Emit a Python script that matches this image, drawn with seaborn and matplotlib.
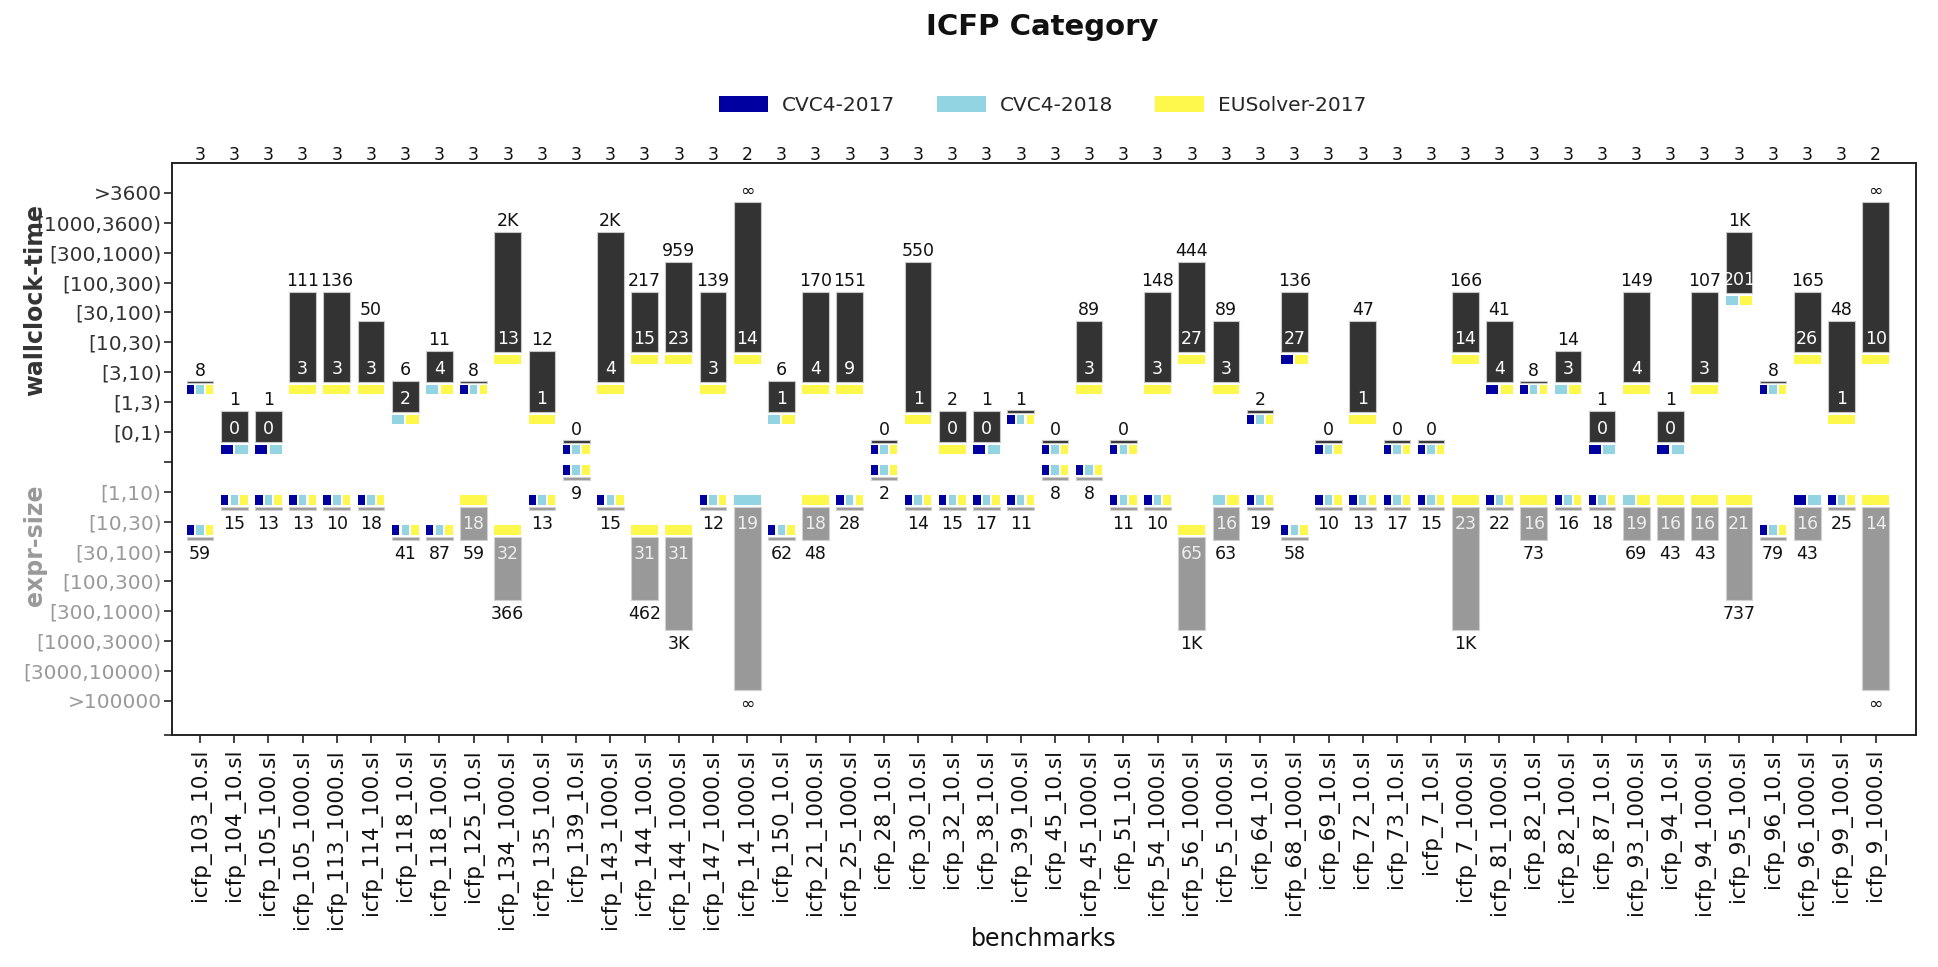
import numpy as np
import pandas as pd
import matplotlib
matplotlib.use("Agg")
import matplotlib.pyplot as plt
import matplotlib.transforms as mtransforms
from matplotlib.patches import Patch
import seaborn as sns

INF = np.inf

benchmarks = [
    "icfp_103_10.sl", "icfp_104_10.sl", "icfp_105_100.sl", "icfp_105_1000.sl", "icfp_113_1000.sl",
    "icfp_114_100.sl", "icfp_118_10.sl", "icfp_118_100.sl", "icfp_125_10.sl", "icfp_134_1000.sl",
    "icfp_135_100.sl", "icfp_139_10.sl", "icfp_143_1000.sl", "icfp_144_100.sl", "icfp_144_1000.sl",
    "icfp_147_1000.sl", "icfp_14_1000.sl", "icfp_150_10.sl", "icfp_21_1000.sl", "icfp_25_1000.sl",
    "icfp_28_10.sl", "icfp_30_10.sl", "icfp_32_10.sl", "icfp_38_10.sl", "icfp_39_100.sl",
    "icfp_45_10.sl", "icfp_45_1000.sl", "icfp_51_10.sl", "icfp_54_1000.sl", "icfp_56_1000.sl",
    "icfp_5_1000.sl", "icfp_64_10.sl", "icfp_68_1000.sl", "icfp_69_10.sl", "icfp_72_10.sl",
    "icfp_73_10.sl", "icfp_7_10.sl", "icfp_7_1000.sl", "icfp_81_1000.sl", "icfp_82_10.sl",
    "icfp_82_100.sl", "icfp_87_10.sl", "icfp_93_1000.sl", "icfp_94_10.sl", "icfp_94_1000.sl",
    "icfp_95_100.sl", "icfp_96_10.sl", "icfp_96_1000.sl", "icfp_99_100.sl", "icfp_9_1000.sl",
]
solved = [3] * 16 + [2] + [3] * 32 + [2]

time_min = [8, 0, 0, 3, 3, 3, 2, 4, 8, 13, 1, 0, 4, 15, 23, 3, 14, 1, 4, 9,
            0, 1, 0, 0, 1, 0, 3, 0, 3, 27, 3, 2, 27, 0, 1, 0, 0, 14, 4, 8,
            3, 0, 4, 0, 3, 201, 8, 26, 1, 10]
time_max = [8, 1, 1, 111, 136, 50, 6, 11, 8, 2000, 12, 0, 2000, 217, 959, 139, INF, 6, 170, 151,
            0, 550, 2, 1, 1, 0, 89, 0, 148, 444, 89, 2, 136, 0, 47, 0, 0, 166, 41, 8,
            14, 1, 149, 1, 107, 1000, 8, 165, 48, INF]
time_win = ["abc", "ab", "ab", "c", "c", "c", "bc", "bc", "abc", "c",
            "c", "abc", "c", "c", "c", "c", "c", "bc", "c", "c",
            "abc", "c", "c", "ab", "abc", "abc", "c", "abc", "c", "c",
            "c", "abc", "ac", "abc", "c", "abc", "abc", "c", "ac", "abc",
            "bc", "ab", "c", "ab", "c", "bc", "abc", "c", "c", "c"]

size_min = [59, 15, 13, 13, 10, 18, 41, 87, 18, 32, 13, 9, 15, 31, 31, 12, 19, 62, 18, 28,
            2, 14, 15, 17, 11, 8, 8, 11, 10, 65, 16, 19, 58, 10, 13, 17, 15, 23, 22, 16,
            16, 18, 19, 16, 16, 21, 79, 16, 25, 14]
size_max = [59, 15, 13, 13, 10, 18, 41, 87, 59, 366, 13, 9, 15, 462, 2900, 12, INF, 62, 48, 28,
            2, 14, 15, 17, 11, 8, 8, 11, 10, 1000, 63, 19, 58, 10, 13, 17, 15, 1000, 22, 73,
            16, 18, 69, 43, 43, 737, 79, 43, 25, INF]
size_win = ["abc", "abc", "abc", "abc", "abc", "abc", "abc", "abc", "c", "c",
            "abc", "abc", "abc", "c", "c", "abc", "b", "abc", "c", "abc",
            "abc", "abc", "abc", "abc", "abc", "abc", "abc", "abc", "abc", "c",
            "bc", "abc", "abc", "abc", "abc", "abc", "abc", "c", "abc", "c",
            "abc", "abc", "bc", "c", "c", "c", "abc", "ab", "abc", "c"]

solvers = ["CVC4-2017", "CVC4-2018", "EUSolver-2017"]
solver_codes = ["a", "b", "c"]
solver_colors = ["#0000a0", "#93d4e3", "#fef74c"]

time_bins = ["[0,1)", "[1,3)", "[3,10)", "[10,30)", "[30,100)", "[100,300)",
             "[300,1000)", "[1000,3600)", ">3600"]
time_edges = [0, 1, 3, 10, 30, 100, 300, 1000, 3600]
size_bins = ["[1,10)", "[10,30)", "[30,100)", "[100,300)", "[300,1000)",
             "[1000,3000)", "[3000,10000)", ">100000"]
size_edges = [1, 10, 30, 100, 300, 1000, 3000, 10000]


def tbin(v):
    return int(np.searchsorted(time_edges, v, side="right"))


def sbin(v):
    return -min(int(np.searchsorted(size_edges, v, side="right")), 8)


def fmt(v):
    if np.isinf(v):
        return "\u221e"
    if v >= 1000:
        return f"{v / 1000:.0f}K"
    return str(int(v))


sns.set_theme(style="white")
plt.rcParams["font.family"] = ["DejaVu Sans"]

fig = plt.figure(figsize=(19.38, 9.67), dpi=100)
ax = fig.add_axes([172 / 1938, 232 / 967, 1744 / 1938, 572 / 967])

DARK = "#333333"
GRAY = "#999999"
W = 0.78
LBL = 12.5

n = len(benchmarks)
rows = []
for i, b in enumerate(benchmarks):
    tk0, tk1 = tbin(time_min[i]), tbin(time_max[i])
    sk0, sk1 = sbin(size_min[i]), sbin(size_max[i])
    ttie = time_min[i] == time_max[i]
    stie = size_min[i] == size_max[i]
    if ttie:
        tb, th = tk0 - 0.36, 0.08
    else:
        tb, th = tk0 - 0.34, (tk1 - 0.30) - (tk0 - 0.34)
    if stie:
        sb, sh = sk0 + 0.38, 0.10
    else:
        sb, sh = sk1 + 0.38, (sk0 + 0.48) - (sk1 + 0.38)
    rows.append(dict(benchmark=b, idx=i, tk0=tk0, tk1=tk1, sk0=sk0, sk1=sk1,
                     ttie=ttie, stie=stie, tb=tb, th=th, sb=sb, sh=sh))
df = pd.DataFrame(rows)

# wallclock-time range bars (top) and expr-size range bars (bottom), via seaborn
sns.barplot(data=df, x="benchmark", y="th", order=benchmarks,
            bottom=df["tb"].to_numpy(), color=DARK, saturation=1,
            width=W, errorbar=None, edgecolor="#c8c8c8", linewidth=0.8, ax=ax)
sns.barplot(data=df, x="benchmark", y="sh", order=benchmarks,
            bottom=df["sb"].to_numpy(), color=GRAY, saturation=1,
            width=W, errorbar=None, edgecolor="#d0d0d0", linewidth=0.8, ax=ax)


def draw_squares(i, y0, y1, win):
    codes = [c for c in solver_codes if c in win]
    m = len(codes)
    gap = 0.065
    w = (W - (m - 1) * gap) / m
    left = i - W / 2
    for j, c in enumerate(codes):
        ax.bar(left + j * (w + gap), y1 - y0, width=w, bottom=y0, align="edge",
               color=solver_colors[solver_codes.index(c)], linewidth=0)


def label(x, y, s, dy, va, color="#111111"):
    ax.annotate(s, xy=(x, y), xytext=(0, dy), textcoords="offset pixels",
                ha="center", va=va, fontsize=LBL, color=color)


for r in df.itertuples():
    i = r.idx
    # time part
    draw_squares(i, r.tk0 - 0.74, r.tk0 - 0.44, time_win[i])
    if r.ttie:
        label(i, r.tb + r.th, fmt(time_max[i]), 5, "baseline")
    else:
        label(i, r.tb + r.th, fmt(time_max[i]), 6, "baseline")
        label(i, r.tb, fmt(time_min[i]), 8, "baseline", "white")
    # size part
    draw_squares(i, r.sk0 + 0.55, r.sk0 + 0.88, size_win[i])
    label(i, r.sb, fmt(size_max[i]), -5, "top")
    if not r.stie:
        label(i, r.sb + r.sh, fmt(size_min[i]), -8, "top", "#eeeeee")
    # solved count above the frame
    ax.annotate(str(solved[i]), xy=(i, 1), xycoords=("data", "axes fraction"),
                xytext=(0, 3), textcoords="offset pixels", ha="center",
                va="baseline", fontsize=LBL, color="#111111")

ax.set_xlim(-0.82, 50.18)
ax.set_ylim(-9.14, 10.0)

yticks = [-9.14, -8, -7, -6, -5, -4, -3, -2, -1, 0, 1, 2, 3, 4, 5, 6, 7, 8, 9]
ylabels = [""] + size_bins[::-1] + [""] + time_bins
ax.set_yticks(yticks)
ax.set_yticklabels(ylabels)
for t, v in zip(ax.get_yticklabels(), yticks):
    t.set_color(GRAY if v < 0 else DARK)
for tk, v in zip(ax.yaxis.get_major_ticks(), yticks):
    if v == 9:
        tk.tick1line.set_visible(False)

ax.set_xticks(range(n))
ax.set_xticklabels(benchmarks, rotation=90)
ax.tick_params(axis="y", length=6, width=1.2, pad=1.5, labelsize=14.5, color="#222222",
               left=True)
ax.tick_params(axis="x", length=6, width=1.2, pad=4, labelsize=15.5, color="#222222",
               bottom=True, labelcolor="#111111")
for sp in ax.spines.values():
    sp.set_visible(True)
    sp.set_linewidth(1.4)
    sp.set_color("#222222")

ax.set_ylabel("")
ax.set_xlabel("benchmarks", fontsize=17, color="#111111")
ax.xaxis.set_label_coords(0.5, (735 - 939) / 572)
ax.xaxis.label.set_va("center")

bt = mtransforms.blended_transform_factory(ax.transAxes, ax.transData)
ax.text(-0.0786, 5.4, "wallclock-time", transform=bt, rotation=90, ha="center",
        va="center", fontsize=17, fontweight="bold", color=DARK)
ax.text(-0.0786, -2.79, "expr-size", transform=bt, rotation=90, ha="center",
        va="center", fontsize=17, fontweight="bold", color=GRAY)

handles = [Patch(facecolor=c, label=s, linewidth=0) for s, c in zip(solvers, solver_colors)]
fig.legend(handles=handles, loc="center", bbox_to_anchor=(0.538, 0.891), ncol=3,
           frameon=False, fontsize=14.5, handlelength=2.4, handleheight=0.9,
           handletextpad=0.7, columnspacing=2.1)

fig.text(0.538, 0.972, "ICFP Category", fontsize=21, fontweight="bold",
         ha="center", va="center", color="#111111")

fig.savefig("out.png", dpi=100, facecolor="white")
